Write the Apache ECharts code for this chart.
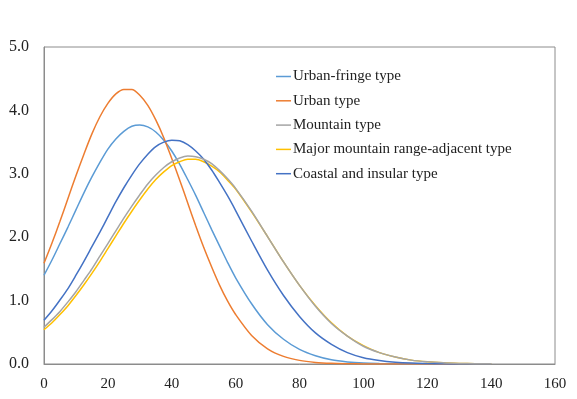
<!DOCTYPE html>
<html>
<head>
<meta charset="utf-8">
<script src="https://cdn.jsdelivr.net/npm/echarts@6/dist/echarts.min.js"></script>
<style>html,body{margin:0;padding:0;background:#fff;}#c{width:577px;height:399px;}</style>
</head>
<body>
<div id="c"></div>
<script>
const xValues = [0,2.5,5,7.5,10,12.5,15,17.5,20,22.5,25,27.5,30,32.5,35,37.5,40,42.5,45,47.5,50,52.5,55,57.5,60,65,70,75,80,85,90,95,100,105,110,115,120,125,130,135,140];
const seriesNames = ['Urban-fringe type','Urban type','Mountain type','Major mountain range-adjacent type','Coastal and insular type'];
const urbanFringe = [1.40,1.64,1.90,2.16,2.43,2.70,2.95,3.18,3.39,3.55,3.67,3.75,3.77,3.74,3.66,3.53,3.36,3.15,2.91,2.66,2.39,2.12,1.86,1.60,1.36,0.95,0.62,0.39,0.23,0.13,0.066,0.033,0.015,0.007,0.003,0.001,0,0,0,0,0];
const urban = [1.59,1.91,2.25,2.61,2.97,3.31,3.63,3.90,4.11,4.26,4.33,4.33,4.24,4.08,3.85,3.57,3.24,2.90,2.54,2.18,1.84,1.53,1.24,0.99,0.78,0.45,0.24,0.12,0.057,0.025,0.010,0.004,0.001,0,0,0,0,0,0,0,0];
const mountain = [0.58,0.70,0.83,0.98,1.14,1.32,1.50,1.70,1.90,2.10,2.30,2.49,2.67,2.84,2.98,3.10,3.19,3.25,3.28,3.27,3.23,3.16,3.05,2.92,2.77,2.41,2.01,1.61,1.24,0.91,0.64,0.44,0.28,0.18,0.11,0.061,0.034,0.018,0.009,0.004,0.002];
const majorMountain = [0.54,0.65,0.78,0.92,1.08,1.25,1.43,1.62,1.82,2.02,2.22,2.41,2.59,2.76,2.91,3.03,3.13,3.19,3.23,3.23,3.19,3.12,3.03,2.90,2.76,2.40,2.01,1.61,1.24,0.92,0.65,0.44,0.29,0.18,0.11,0.061,0.034,0.018,0.009,0.004,0.002];
const coastal = [0.69,0.84,1.01,1.19,1.40,1.62,1.85,2.08,2.32,2.56,2.78,2.98,3.16,3.31,3.43,3.50,3.53,3.52,3.46,3.36,3.23,3.06,2.86,2.65,2.42,1.94,1.48,1.08,0.75,0.49,0.31,0.18,0.10,0.056,0.029,0.014,0.007,0.003,0.001,0,0];
const colors = ['#5B9BD5','#ED7D31','#A5A5A5','#FFC000','#4472C4'];
const allData = [urbanFringe, urban, mountain, majorMountain, coastal];

const font = '"Liberation Serif", "Times New Roman", serif';
const chart = echarts.init(document.getElementById('c'), null, {renderer:'canvas'});
const series = seriesNames.map((name, i) => ({
  name: name,
  type: 'line',
  data: xValues.map((x, j) => [x, allData[i][j]]),
  smooth: 0.3,
  symbol: 'none',
  lineStyle: {width: 1.5, color: colors[i]},
  itemStyle: {color: colors[i]},
  z: i === 2 ? 3 : 2
}));
chart.setOption({
  animation: false,
  backgroundColor: '#fff',
  grid: {left: 44, top: 47, right: 22, bottom: 35, show: true, borderColor: '#8c8c8c', borderWidth: 1},
  legend: {
    orient: 'vertical',
    left: 276, top: 69, padding: 0,
    itemWidth: 15, itemHeight: 14, itemGap: 9.3,
    icon: 'path://M0,0 L10,0 L10,1 L0,1 Z',
    textStyle: {fontFamily: font, fontSize: 15, color: '#222', padding: [0,0,0,-3]},
    data: seriesNames
  },
  xAxis: {
    type: 'value', min: 0, max: 160, interval: 20,
    axisLine: {show: true, lineStyle: {color: '#8c8c8c'}},
    axisTick: {show: false},
    splitLine: {show: false},
    axisLabel: {fontFamily: font, fontSize: 15, color: '#222', margin: 13}
  },
  yAxis: {
    type: 'value', min: 0, max: 5, interval: 1,
    axisLine: {show: true, lineStyle: {color: '#8c8c8c'}},
    axisTick: {show: false},
    splitLine: {show: false},
    axisLabel: {fontFamily: font, fontSize: 16, color: '#222', margin: 15, formatter: v => v.toFixed(1)}
  },
  series: series
});
</script>
</body>
</html>
